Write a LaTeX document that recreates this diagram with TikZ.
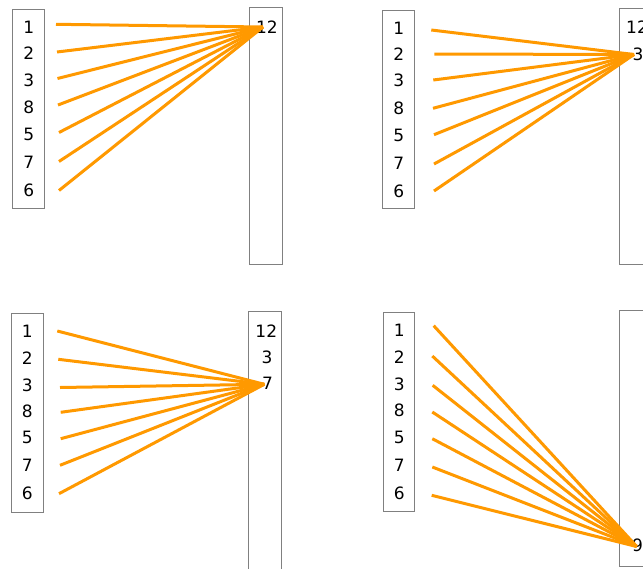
\documentclass[tikz,border=0pt]{standalone}
\usepackage{fontspec}
\setmainfont{DejaVu Sans}
\definecolor{edgeorange}{RGB}{255,153,0}
\definecolor{boxgray}{RGB}{128,128,128}
\tikzset{
  colbox/.style={draw=boxgray, line width=1pt},
  lbl/.style={inner sep=0pt, font=\fontsize{17}{17}\selectfont, text=black},
  link/.style={draw=edgeorange, line width=3pt}
}
\begin{document}
\begin{tikzpicture}[x=1pt,y=-1pt]
\clip (0,0) rectangle (643,568);
\fill[white] (0,0) rectangle (643,568);
% ---------- panel 1 (top-left)
\draw[colbox] (12.5,9.5) rectangle (44,208.5);
\draw[colbox] (249,7.5) rectangle (282.5,264);
\node[lbl] (a1) at (28.7,27.3) {1};
\node[lbl] (a2) at (28.7,53.3) {2};
\node[lbl] (a3) at (28.7,80.7) {3};
\node[lbl] (a8) at (28.7,107.3) {8};
\node[lbl] (a5) at (28.7,134) {5};
\node[lbl] (a7) at (28.7,162) {7};
\node[lbl] (a6) at (28.7,190) {6};
\node[lbl] (aR12) at (267,27.3) {12};
\coordinate (as1) at (56,24.3);
\coordinate (as2) at (57,52);
\coordinate (as3) at (57.5,78.5);
\coordinate (as8) at (58,105);
\coordinate (as5) at (59,132.5);
\coordinate (as7) at (59,161.5);
\coordinate (as6) at (59,190.5);
\coordinate (ae) at (263,27);
\foreach \s in {as1,as2,as3,as8,as5,as7,as6} \draw[link] (\s) -- (ae);
% ---------- panel 2 (top-right)
\draw[colbox] (382.5,10) rectangle (414,208.5);
\draw[colbox] (619,8) rectangle (652.5,264.5);
\node[lbl] (b1) at (398.7,28.3) {1};
\node[lbl] (b2) at (398.7,54) {2};
\node[lbl] (b3) at (398.7,80.7) {3};
\node[lbl] (b8) at (398.7,108) {8};
\node[lbl] (b5) at (398.7,135) {5};
\node[lbl] (b7) at (398.7,163) {7};
\node[lbl] (b6) at (398.7,191) {6};
\node[lbl] (bR12) at (637,27.3) {12};
\node[lbl] (bR3) at (638,54) {3};
\coordinate (bs1) at (431.3,30);
\coordinate (bs2) at (434.3,54);
\coordinate (bs3) at (433.3,80);
\coordinate (bs8) at (433,108.3);
\coordinate (bs5) at (434,134.7);
\coordinate (bs7) at (434,164);
\coordinate (bs6) at (434,191);
\coordinate (be) at (634,54.5);
\foreach \s in {bs1,bs2,bs3,bs8,bs5,bs7,bs6} \draw[link] (\s) -- (be);
% ---------- panel 3 (bottom-left)
\draw[colbox] (11.5,313.5) rectangle (43,512.5);
\draw[colbox] (248.5,311.7) rectangle (281,575);
\node[lbl] (c1) at (27.3,331.7) {1};
\node[lbl] (c2) at (27.3,357.7) {2};
\node[lbl] (c3) at (27.3,385) {3};
\node[lbl] (c8) at (27.3,411.7) {8};
\node[lbl] (c5) at (27.3,437.7) {5};
\node[lbl] (c7) at (27.3,465.7) {7};
\node[lbl] (c6) at (27.3,493.7) {6};
\node[lbl] (cR12) at (266.3,330.7) {12};
\node[lbl] (cR3) at (267,357.7) {3};
\node[lbl] (cR7) at (267.5,383.7) {7};
\coordinate (cs1) at (57.3,331);
\coordinate (cs2) at (58.3,359.3);
\coordinate (cs3) at (60,387.5);
\coordinate (cs8) at (60.7,412.3);
\coordinate (cs5) at (60.7,438.7);
\coordinate (cs7) at (60,465.3);
\coordinate (cs6) at (59,493.7);
\coordinate (ce) at (264.3,384.3);
\foreach \s in {cs1,cs2,cs3,cs8,cs5,cs7,cs6} \draw[link] (\s) -- (ce);
% ---------- panel 4 (bottom-right)
\draw[colbox] (383,312.7) rectangle (414.3,511);
\draw[colbox] (619.7,310.7) rectangle (653,566.7);
\node[lbl] (d1) at (399.3,330.7) {1};
\node[lbl] (d2) at (399.3,357.3) {2};
\node[lbl] (d3) at (399.3,384.3) {3};
\node[lbl] (d8) at (399.3,410.7) {8};
\node[lbl] (d5) at (399.3,437.3) {5};
\node[lbl] (d7) at (399.3,465) {7};
\node[lbl] (d6) at (399.3,493.3) {6};
\node[lbl] (dR9) at (637.5,545) {9};
\coordinate (ds1) at (433.7,325.7);
\coordinate (ds2) at (432.3,356);
\coordinate (ds3) at (432.7,385.3);
\coordinate (ds8) at (432.3,412);
\coordinate (ds5) at (432.3,438.7);
\coordinate (ds7) at (432.3,467);
\coordinate (ds6) at (431.7,495.3);
\coordinate (de) at (636.7,546.5);
\foreach \s in {ds1,ds2,ds3,ds8,ds5,ds7,ds6} \draw[link] (\s) -- (de);
\end{tikzpicture}
\end{document}
